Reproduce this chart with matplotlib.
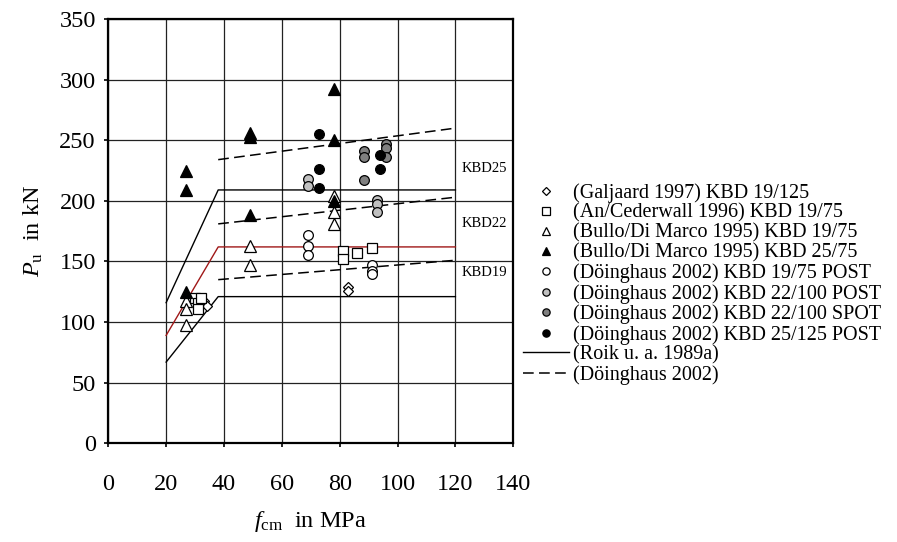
import matplotlib
matplotlib.use("Agg")
import matplotlib.pyplot as plt

plt.rcParams['font.family'] = ['Liberation Serif', 'DejaVu Serif']
plt.rcParams['mathtext.fontset'] = 'custom'
plt.rcParams['mathtext.rm'] = 'Liberation Serif'
plt.rcParams['mathtext.it'] = 'Liberation Serif:italic'

# ---- data ----
galj_x = [33, 34, 83, 83]
galj_y = [117, 113, 129, 126]

an_x = [30, 31, 31, 32, 81, 81, 86, 91]
an_y = [120, 116, 111, 120, 159, 152, 157, 161]

bullo19_x = [27, 27, 27, 49, 49, 78, 78, 78]
bullo19_y = [117, 111, 98, 163, 147, 204, 191, 181]

bullo25_x = [27, 27, 27, 49, 49, 49, 78, 78, 78]
bullo25_y = [225, 209, 125, 256, 253, 188, 292, 250, 200]

d19_x = [69, 69, 69, 91, 91, 91]
d19_y = [172, 163, 155, 147, 142, 140]

d22p_x = [69, 69, 93, 93, 93]
d22p_y = [218, 212, 201, 197, 191]

d22s_x = [88.5, 88.5, 88.5, 96, 96, 96]
d22s_y = [241, 236, 217, 247, 244, 236]

d25_x = [73, 73, 73, 94, 94]
d25_y = [255, 226, 211, 238, 226]

# Roik u. a. 1989a (solid)
roik_x = [20, 38, 120]
roik25_y = [116, 209, 209]
roik22_y = [89, 162, 162]
roik19_y = [67, 121, 121]

# Döinghaus 2002 (dashed)
doe_x = [38, 120]
doe25_y = [234, 260]
doe22_y = [181, 203]
doe19_y = [135, 151]

kbd_labels = ['KBD25', 'KBD22', 'KBD19']
kbd_label_y = [227, 181, 141]

fig = plt.figure(figsize=(8.97, 5.42), dpi=100)
ax = fig.add_axes([0.1207, 0.1821, 0.4515, 0.7828])

ms = 7
ax.plot(galj_x, galj_y, ls='none', marker='D', ms=5, mfc='white', mec='black', mew=0.9,
        label='(Galjaard 1997) KBD 19/125', zorder=5)
ax.plot(an_x, an_y, ls='none', marker='s', ms=ms, mfc='white', mec='black', mew=0.9,
        label='(An/Cederwall 1996) KBD 19/75', zorder=5)
ax.plot(bullo19_x, bullo19_y, ls='none', marker='^', ms=ms + 1, mfc='white', mec='black', mew=0.9,
        label='(Bullo/Di Marco 1995) KBD 19/75', zorder=5)
ax.plot(bullo25_x, bullo25_y, ls='none', marker='^', ms=ms + 1, mfc='black', mec='black', mew=0.9,
        label='(Bullo/Di Marco 1995) KBD 25/75', zorder=5)
ax.plot(d19_x, d19_y, ls='none', marker='o', ms=ms, mfc='white', mec='black', mew=0.9,
        label='(Döinghaus 2002) KBD 19/75 POST', zorder=5)
ax.plot(d22p_x, d22p_y, ls='none', marker='o', ms=ms, mfc='#c0c0c0', mec='black', mew=0.9,
        label='(Döinghaus 2002) KBD 22/100 POST', zorder=5)
ax.plot(d22s_x, d22s_y, ls='none', marker='o', ms=ms, mfc='#808080', mec='black', mew=0.9,
        label='(Döinghaus 2002) KBD 22/100 SPOT', zorder=5)
ax.plot(d25_x, d25_y, ls='none', marker='o', ms=ms, mfc='black', mec='black', mew=0.9,
        label='(Döinghaus 2002) KBD 25/125 POST', zorder=5)

ax.plot(roik_x, roik25_y, color='black', lw=1.0, label='(Roik u. a. 1989a)', zorder=4)
ax.plot(roik_x, roik22_y, color='#a01818', lw=1.0, zorder=4)
ax.plot(roik_x, roik19_y, color='black', lw=1.0, zorder=4)

dash = (0, (7, 3.5))
ax.plot(doe_x, doe25_y, color='black', lw=1.1, ls=dash, label='(Döinghaus 2002)', zorder=4)
ax.plot(doe_x, doe22_y, color='black', lw=1.1, ls=dash, zorder=4)
ax.plot(doe_x, doe19_y, color='black', lw=1.1, ls=dash, zorder=4)

for t, yy in zip(kbd_labels, kbd_label_y):
    ax.text(130, yy, t, fontsize=10.5, ha='center', va='center', zorder=6)

ax.set_xlim(0, 140)
ax.set_ylim(0, 350)
ax.set_xticks(range(0, 141, 20))
ax.set_yticks(range(0, 351, 50))
ax.grid(True, color='#222222', lw=0.9)
ax.set_axisbelow(True)
for s in ax.spines.values():
    s.set_linewidth(1.6)
ax.tick_params(axis='both', direction='out', length=3, width=1.2, labelsize=17.5)
ax.tick_params(axis='x', pad=19)
ax.tick_params(axis='y', pad=6)

ax.set_xlabel(r'$f_{\mathrm{cm}}$  in MPa', fontsize=17.5, labelpad=10)
ax.set_ylabel(r'$P_{\mathrm{u}}$  in kN', fontsize=17.5, labelpad=10)

handles, labels = ax.get_legend_handles_labels()
leg = fig.legend(handles, labels, loc='upper left', bbox_to_anchor=(0.583, 0.662),
                 frameon=False, fontsize=14.5, markerscale=0.75, handlelength=2.3,
                 handletextpad=0.2, labelspacing=0.035, borderpad=0, borderaxespad=0)

fig.savefig('out.png', dpi=100)
